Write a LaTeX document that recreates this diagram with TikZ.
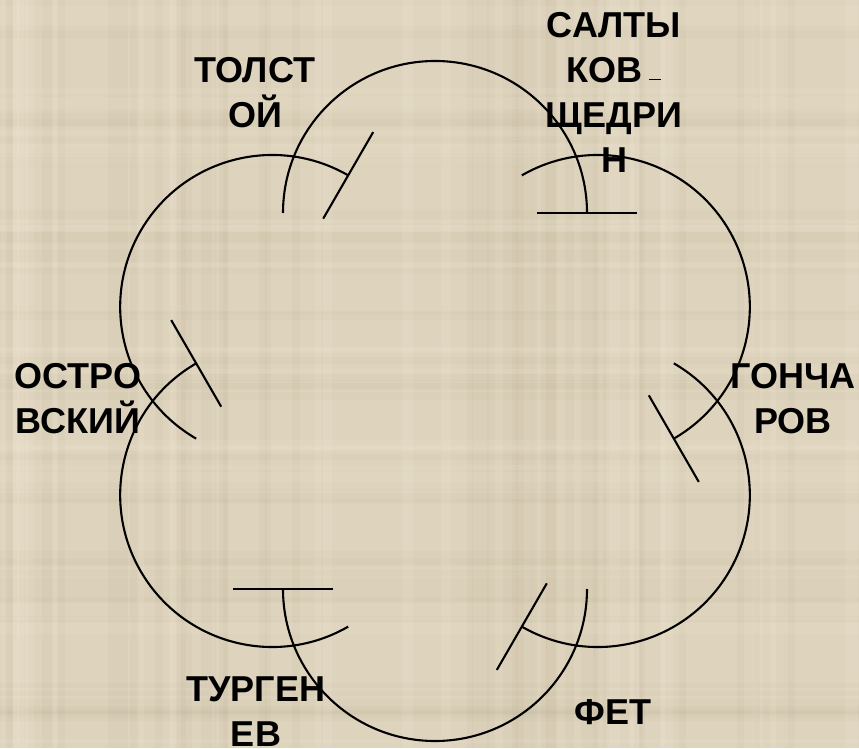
\documentclass[tikz,border=0pt]{standalone}
\usepackage{fontspec}
\setmainfont{Liberation Sans}
\definecolor{parchment}{RGB}{222,211,189}
\definecolor{parchmentdark}{RGB}{176,160,130}
\definecolor{parchmentlight}{RGB}{244,236,218}

\begin{document}
\begin{tikzpicture}[
  x=1pt, y=1pt,
  petal/.style={line width=2.1pt, black},
  writer/.style={font=\fontsize{36}{45}\selectfont\bfseries, align=center,
    anchor=base, inner sep=0pt},
]
\fill[parchment] (0,0) rectangle (859,748);
\useasboundingbox (0,0) rectangle (859,748);
% faint plaid texture
\pgfmathsetseed{11}
\foreach \i in {1,...,35} {
  \pgfmathsetmacro{\xx}{rnd*859}
  \pgfmathsetmacro{\yy}{rnd*748}
  \pgfmathsetmacro{\ww}{4+rnd*14}
  \fill[parchmentdark, opacity=0.07] (\xx,0) rectangle ++(\ww,748);
  \fill[parchmentdark, opacity=0.06] (0,\yy) rectangle ++(859,\ww);
}
\foreach \i in {1,...,25} {
  \pgfmathsetmacro{\xx}{rnd*859}
  \pgfmathsetmacro{\yy}{rnd*748}
  \pgfmathsetmacro{\ww}{3+rnd*10}
  \fill[parchmentlight, opacity=0.15] (\xx,0) rectangle ++(\ww,748);
  \fill[parchmentlight, opacity=0.12] (0,\yy) rectangle ++(859,\ww);
}

% six petals, each a half circle with a bar at its end
\coordinate (hub) at (435,347);
\foreach \t in {90,30,-30,-90,-150,150} {
  \draw[petal] (hub) ++(\t:188) ++(\t+90:152)
    arc[start angle=\t+90, end angle=\t-90, radius=152];
  \draw[petal] (hub) ++(\t:188) ++(\t-90:102) -- ++(\t-90:100);
}

% writers (anchored at the baseline of the last line)
\node[writer] (tolstoy) at (255,620) {ТОЛСТ\\ОЙ};
\node[writer] (saltykov) at (614,575)
  {САЛТЫ\\КОВ\hspace{7pt}\rule[3pt]{12pt}{1.3pt}\\ЩЕДРИ\\Н};
\node[writer] (goncharov) at (793,315) {ГОНЧА\\РОВ};
\node[writer] (ostrovsky) at (78,315) {ОСТРО\\ВСКИЙ};
\node[writer] (turgenev) at (256,2) {ТУРГЕН\\ЕВ};
\node[writer] (fet) at (613,24) {ФЕТ};
\end{tikzpicture}
\end{document}
